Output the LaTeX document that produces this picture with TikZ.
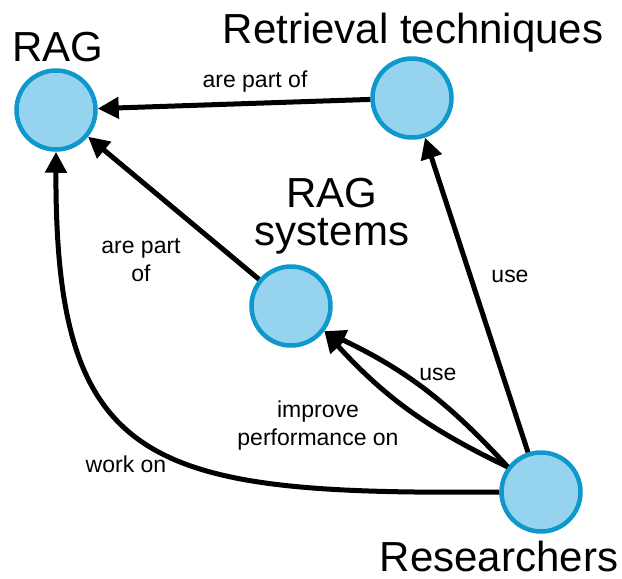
\documentclass[tikz,border=0pt]{standalone}
\usepackage{fontspec}
\setmainfont{Liberation Sans}
\usetikzlibrary{arrows.meta}
\definecolor{nodefill}{RGB}{150,211,238}
\definecolor{nodeline}{RGB}{16,152,204}
\tikzset{
  concept/.style={circle, fill=nodefill, draw=nodeline, line width=4.5pt, minimum size=79pt, inner sep=0pt},
  biglabel/.style={font=\fontsize{42}{37}\selectfont, align=center, inner sep=0pt},
  edgelabel/.style={font=\fontsize{23}{28}\selectfont, align=center, inner sep=0pt},
  rel/.style={line width=5pt, -{Triangle[length=21pt,width=21pt]}}
}
\begin{document}
\begin{tikzpicture}[x=1pt,y=1pt]
\useasboundingbox (0,0) rectangle (622,-579);
% concept nodes
\node[concept] (rag) at (56,-110) {};
\node[concept] (ret) at (412,-98) {};
\node[concept] (sys) at (291,-306) {};
\node[concept] (res) at (541,-492) {};
% node titles
\node[biglabel, anchor=base] (ragT) at (58,-61) {RAG};
\node[biglabel, anchor=base] (retT) at (413,-43) {Retrieval techniques};
\node[biglabel, anchor=base] (sysT1) at (332,-207) {RAG};
\node[biglabel, anchor=base] (sysT2) at (332,-245) {systems};
\node[biglabel, anchor=base] (resT) at (499,-571) {Researchers};
% connectors
\draw[rel] (ret) -- (rag);
\draw[rel] (sys) -- (rag);
\draw[rel] (res) -- (ret);
\draw[rel] (res.143) to[bend right=11] (sys.-37);
\draw[rel] (res.143) to[bend left=11] (sys.-37);
\draw[rel] (res.west) .. controls (150,-495) and (55,-470) .. (rag.south);
% edge labels
\node[edgelabel] (l1) at (255,-82) {are part of};
\node[edgelabel] (l2) at (141,-260) {are part\\of};
\node[edgelabel] (l3) at (510,-276) {use};
\node[edgelabel] (l4) at (438,-374) {use};
\node[edgelabel] (l5) at (318,-426) {improve\\performance on};
\node[edgelabel] (l6) at (126,-464) {work on};
\end{tikzpicture}
\end{document}
